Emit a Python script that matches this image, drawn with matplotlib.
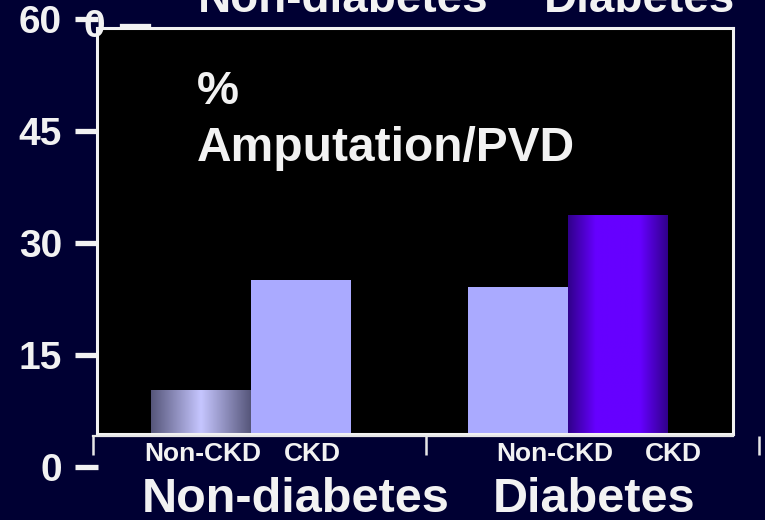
import numpy as np
import matplotlib
matplotlib.use("Agg")
import matplotlib.pyplot as plt
from matplotlib.lines import Line2D
from matplotlib.colors import to_rgb

plt.rcParams['font.family'] = ['Liberation Sans', 'DejaVu Sans']
plt.rcParams['font.weight'] = 'bold'

# ---- data ----
groups = ["Non-diabetes", "Diabetes"]
subgroups = ["Non-CKD", "CKD"]
amputation_pct = [[10.3, 25.0],   # Non-diabetes: Non-CKD, CKD
                  [24.1, 33.7]]   # Diabetes: Non-CKD, CKD
y_ticks = [0, 15, 30, 45, 60]
panel_title = ["%", "Amputation/PVD"]

# ---- layout (pixels) ----
W, H = 765, 520
BG = '#000033'
WHITE = '#f2f2f2'
y_zero_px = 466.6          # pixel row of value 0
px_per_unit = 7.467        # pixels per percentage point
box_l, box_r, box_t, box_b = 97, 733, 28, 434
bar_px = 100.0             # bar width in pixels
first_center_px = 201
group_step = 3.17          # distance between group starts, in bar widths

fig = plt.figure(figsize=(W / 100, H / 100), dpi=100, facecolor=BG)


def fx(px):
    return px / W


def fy(py):
    return 1 - py / H


# main plotting box
ax = fig.add_axes([fx(box_l), fy(box_b), fx(box_r - box_l), (box_b - box_t) / H])
ax.set_facecolor('black')
for s in ax.spines.values():
    s.set_color(WHITE)
    s.set_linewidth(2.2)
ax.set_xticks([])
ax.set_yticks([])

x_left = (box_l - first_center_px) / bar_px
x_right = (box_r - first_center_px) / bar_px
y_low = (y_zero_px - box_b) / px_per_unit
y_high = (y_zero_px - box_t) / px_per_unit

solid_color = '#aaaaff'
gradients = {
    (0, 0): ('#56567a', '#c6c6ff', 'linear'),
    (1, 1): ('#30008a', '#6600ff', 'plateau'),
}

for gi, g in enumerate(groups):
    for si, sname in enumerate(subgroups):
        xpos = gi * group_step + si
        val = amputation_pct[gi][si]
        key = (gi, si)
        bars = ax.bar(xpos, val, width=1.0, bottom=0,
                      color=solid_color if key not in gradients else 'none',
                      edgecolor='none', zorder=2)
        if key in gradients:
            edge, center, kind = gradients[key]
            b = bars[0]
            x0, w, h = b.get_x(), b.get_width(), b.get_height()
            u = np.linspace(0, 1, 256)
            tri = 1 - np.abs(2 * u - 1)
            prof = tri if kind == 'linear' else np.clip(tri * 1.8, 0, 1)
            c0, c1 = np.array(to_rgb(edge)), np.array(to_rgb(center))
            img = c0[None, :] + (c1 - c0)[None, :] * prof[:, None]
            im = ax.imshow(img[None, :, :], extent=(x0, x0 + w, 0, h),
                           aspect='auto', interpolation='bilinear', zorder=2)
            # clip to the bar outline while keeping the axes clip box
            im.set_clip_path(b.get_path(), b.get_transform())

ax.set_xlim(x_left, x_right)
ax.set_ylim(y_low, y_high)

# value axis: tick dashes and numbers on the same scale
ax_y = fig.add_axes([fx(98), fy(y_zero_px), 0.0005, 60 * px_per_unit / H])
ax_y.set_ylim(0, 60)
ax_y.patch.set_visible(False)
for s in ax_y.spines.values():
    s.set_visible(False)
ax_y.set_xticks([])
ax_y.set_yticks(y_ticks)
ax_y.set_yticklabels([str(t) for t in y_ticks])
ax_y.tick_params(axis='y', direction='out', length=16.5, width=3.8, color=WHITE,
                 labelcolor=WHITE, labelsize=28, pad=9.5)
ax_y.set_zorder(-1)

# category axis with boundary ticks
cat_l, cat_r, cat_y = 93, 759, 436
ax_c = fig.add_axes([fx(cat_l), fy(cat_y), fx(cat_r - cat_l), 0.0005])
ax_c.set_xlim(0, len(groups))
ax_c.patch.set_visible(False)
for k in ['top', 'left', 'right']:
    ax_c.spines[k].set_visible(False)
ax_c.spines['bottom'].set_color('#e6e6e6')
ax_c.spines['bottom'].set_linewidth(1.6)
ax_c.spines['bottom'].set_bounds(0, (box_r - cat_l) / ((cat_r - cat_l) / len(groups)))
ax_c.set_yticks([])
ax_c.set_xticks(range(len(groups) + 1))
ax_c.set_xticklabels([])
ax_c.tick_params(axis='x', direction='out', length=14, width=1.8, color='#e6e6e6')

# subgroup labels under the bars
sub_x = [[203, 312], [555, 673]]
for gi in range(len(groups)):
    for si, sname in enumerate(subgroups):
        fig.text(fx(sub_x[gi][si]), fy(454), sname, color=WHITE, fontsize=19,
                 ha='center', va='center', fontweight='bold')

# group labels along the bottom, repeated off the top edge
fig.text(fx(450), fy(512), groups[0], color=WHITE, fontsize=35,
         ha='right', va='baseline', fontweight='bold')
fig.text(fx(493), fy(512), groups[1], color=WHITE, fontsize=35,
         ha='left', va='baseline', fontweight='bold')
fig.text(fx(489), fy(12), groups[0], color=WHITE, fontsize=33,
         ha='right', va='baseline', fontweight='bold')
fig.text(fx(544), fy(12), groups[1], color=WHITE, fontsize=33,
         ha='left', va='baseline', fontweight='bold')

# stray zero tick near the top
fig.text(fx(94), fy(27), "0", color=WHITE, fontsize=28, ha='center', va='center',
         fontweight='bold')
fig.add_artist(Line2D([fx(122), fx(148)], [fy(26), fy(26)], color=WHITE,
                      linewidth=3.8, transform=fig.transFigure))

# panel title inside the box
fig.text(fx(197), fy(104), panel_title[0], color=WHITE, fontsize=34, ha='left',
         va='baseline', fontweight='bold')
fig.text(fx(197), fy(161), panel_title[1], color=WHITE, fontsize=34.5, ha='left',
         va='baseline', fontweight='bold')

fig.savefig('out.png', dpi=100, facecolor=BG)
